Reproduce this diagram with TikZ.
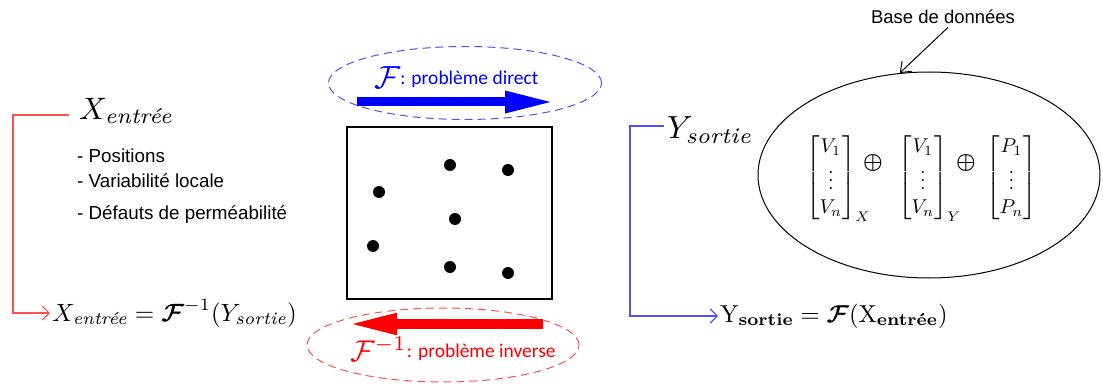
\documentclass[tikz,border=0pt]{standalone}
\usepackage{amsmath, amssymb, bm}
\usepackage{fontspec}
\newfontfamily\arialfont{Liberation Sans}
\newfontfamily\calibfont{Carlito}
\usetikzlibrary{arrows.meta, shapes.geometric}
\definecolor{dirBlue}{RGB}{0, 0, 255}
\definecolor{invRed}{RGB}{255, 0, 0}
\definecolor{lineBlue}{RGB}{80, 80, 255}
\definecolor{lineRed}{RGB}{255, 80, 80}

\begin{document}
\begin{tikzpicture}[x=1pt, y=-1pt,
    dashell/.style={draw, ellipse, dashed, dash pattern=on 8pt off 5pt, line width=1pt, inner sep=0},
    bracketline/.style={line width=1.1pt, -{Straight Barb[length=7pt,width=14pt]}},
    listtxt/.style={anchor=base west, inner sep=0, font=\arialfont\fontsize{18.8}{21}\selectfont},
    vecnode/.style={anchor=base west, inner sep=0}]
        \useasboundingbox (0,0) rectangle (1103,385);
        % input side
        \node[anchor=west, inner sep=1pt] (xin) at (78,111) {\scalebox{3.1}{$X_{\textit{entrée}}$}};
        \node[listtxt] (posi) at (77,162) {- Positions};
        \node[listtxt] (vari) at (77,187) {- Variabilité locale};
        \node[listtxt] (defa) at (77,219) {- Défauts de perméabilité};
        \node[anchor=west, inner sep=2pt] (xeq) at (50,313) {\scalebox{2.5}{$X_{\textit{entrée}} = \bm{\mathcal{F}}^{-1}(Y_{\textit{sortie}})$}};
        \coordinate (redcorner) at (13,313);
        \draw[lineRed, bracketline] ([xshift=-9pt,yshift=-4pt]xin.west) -| (redcorner) -- (xeq.west);
        % direct problem: ellipse and arrow
        \node[dashell, lineBlue, minimum width=273pt, minimum height=73pt] (direll) at (465,83) {};
        \node[dirBlue, anchor=base west, inner sep=0] (dirlab) at (374,89) {\scalebox{3.2}{$\mathcal{F}$}\raisebox{4pt}{\calibfont\fontsize{19.5}{22}\selectfont: problème direct}};
        \coordinate (dirS) at (357,102);
        \coordinate (dirE) at (555,102);
        \draw[dirBlue, line width=9pt, -{Triangle[length=50pt,width=20pt]}] (dirS) -- (dirE);
        % domain with points
        \node[draw, line width=1.2pt, minimum width=205pt, minimum height=172pt, inner sep=0] (domaine) at (449.5,213) {};
        \foreach \p in {(379,192),(450,165),(508,170),(455,219),(373,246),(450,267),(508,273)}
          \fill \p circle (6);
        % inverse problem: ellipse and arrow
        \node[dashell, lineRed, minimum width=272pt, minimum height=74pt] (invell) at (443,345) {};
        \coordinate (invS) at (543,324);
        \coordinate (invE) at (345,324);
        \draw[invRed, line width=10pt, -{Triangle[length=52pt,width=19pt]}] (invS) -- (invE);
        \node[invRed, anchor=base west, inner sep=0] (invlab) at (350,361) {\scalebox{3.0}{$\mathcal{F}^{-1}$}\raisebox{4pt}{\calibfont\fontsize{19.5}{22}\selectfont: problème inverse}};
        % output side
        \node[anchor=west, inner sep=1pt] (yout) at (666,130) {\scalebox{3.2}{$Y_{\textit{sortie}}$}};
        \node[anchor=west, inner sep=2pt] (yeq) at (718,316) {\scalebox{2.45}{$\mathrm{Y}_{\textbf{sortie}} = \bm{\mathcal{F}}(\mathrm{X}_{\textbf{entrée}})$}};
        \coordinate (bluecorner) at (630,316);
        \draw[lineBlue, bracketline] ([xshift=-2pt,yshift=4pt]yout.west) -| (bluecorner) -- (yeq.west);
        % database
        \node[draw, ellipse, line width=1pt, minimum width=342pt, minimum height=206pt, inner sep=0] (db) at (929,175) {};
        \node[font=\arialfont\fontsize{18.5}{20}\selectfont] (dblabel) at (943,17) {Base de données};
        \draw[line width=1pt, -{Straight Barb[length=9pt,width=14pt]}] ([xshift=5pt]dblabel.south) -- (db.106);
        \node[vecnode] (mvx) at (806,183) {\setlength\arraycolsep{1.5pt}\scalebox{2}{$\begin{bmatrix} V_1\\ \vdots\\ V_n\end{bmatrix}_X$}};
        \node (op1) at (873,163) {\scalebox{2.2}{$\bm{\oplus}$}};
        \node[vecnode] (mvy) at (898,183) {\setlength\arraycolsep{1.5pt}\scalebox{2}{$\begin{bmatrix} V_1\\ \vdots\\ V_n\end{bmatrix}_Y$}};
        \node (op2) at (966,163) {\scalebox{2.2}{$\bm{\oplus}$}};
        \node[vecnode] (mp) at (986,183) {\setlength\arraycolsep{1.5pt}\scalebox{2}{$\begin{bmatrix} P_1\\ \vdots\\ P_n\end{bmatrix}$}};
      \end{tikzpicture}
\end{document}
